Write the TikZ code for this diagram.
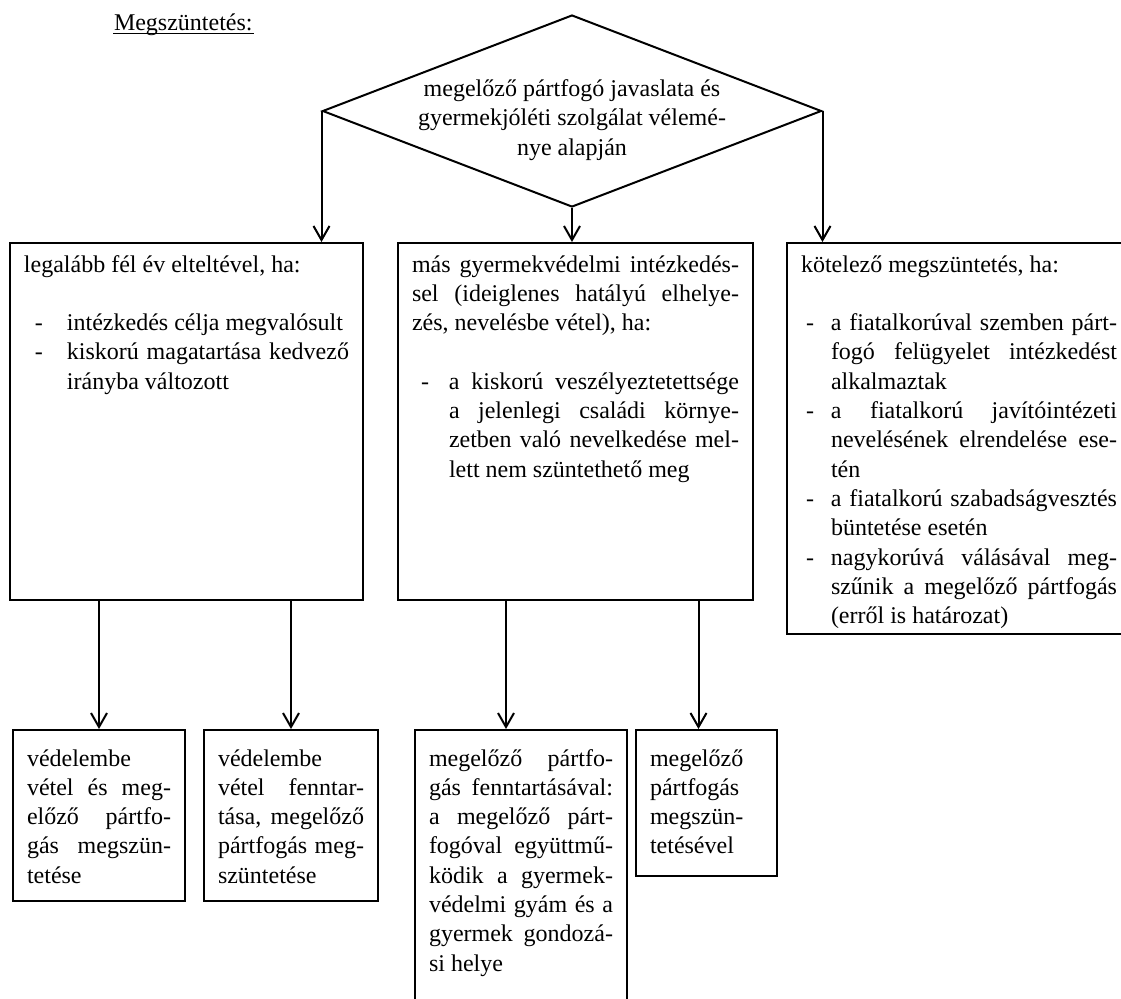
\documentclass[tikz,border=0pt]{standalone}
\usepackage{fontspec}
\setmainfont{Liberation Serif}
\usetikzlibrary{arrows.meta,shapes.geometric}
\setlength{\parindent}{0pt}
% text settings of the boxes
\newcommand{\boxfont}{\fontsize{12pt}{14.65pt}\selectfont\frenchspacing
  \spaceskip=3pt plus 30pt minus 0.5pt\hyphenpenalty=10000\relax}
\newcommand{\dashitem}[2]{\par\noindent\hangindent=#2\hangafter=1%
  \makebox[#2][l]{\hspace{#1}-}\ignorespaces}
\newcommand{\gap}{\par\vskip14.65pt}

\begin{document}
\begin{tikzpicture}[
  x=0.5pt, y=-0.5pt,
  line width=1pt,
  cell/.style={draw, anchor=north west, inner xsep=7pt, inner ysep=4pt,
    text height=10.5pt, align=justify, font=\boxfont},
  lowcell/.style={cell, text height=14pt},
  arr/.style={-{Straight Barb[length=7pt, width=8pt]}}
]
\useasboundingbox (0,0) rectangle (1121,998);

% Title
\node[anchor=base west, inner sep=0pt, font=\fontsize{12pt}{14pt}\selectfont] (title) at (113,30) {Megszüntetés:};
\draw[line width=0.6pt] ([yshift=-1.8pt]title.base west) -- ([yshift=-1.8pt]title.base east);

% Decision
\node[diamond, draw, minimum width=249.5pt, minimum height=96pt, inner sep=0pt] (cond) at (572,111) {};
\node[font=\boxfont, align=center] (condtext) at ([yshift=-4.5pt]cond.center)
  {megelőző pártfogó javaslata és\\gyermekjóléti szolgálat vélemé-\\nye alapján};

% First row
\node[cell, text width=162.5pt, text depth=160pt] (L) at (9,242) {%
  legalább fél év elteltével, ha:\gap
  \dashitem{5.5pt}{21.5pt} intézkedés célja megvalósult
  \dashitem{5.5pt}{21.5pt} kiskorú magatartása kedvező\linebreak irányba változott\par};
\node[cell, text width=163.5pt, text depth=160pt] (M) at (397,242) {%
  más gyermekvédelmi intézkedés-\linebreak sel (ideiglenes hatályú elhelye-\linebreak zés, nevelésbe vétel), ha:\gap
  \dashitem{4.5pt}{18.5pt} a kiskorú veszélyeztetettsége\linebreak a jelenlegi családi környe-\linebreak
  zetben való nevelkedése mel-\linebreak lett nem szüntethető meg\par};
\node[cell, text width=158pt, text depth=177pt] (R) at (786,242) {%
  kötelező megszüntetés, ha:\gap
  \dashitem{2.5pt}{15pt} a fiatalkorúval szemben párt-\linebreak fogó felügyelet intézkedést\linebreak alkalmaztak
  \dashitem{2.5pt}{15pt} a fiatalkorú javítóintézeti\linebreak nevelésének elrendelése ese-\linebreak tén
  \dashitem{2.5pt}{15pt} a fiatalkorú szabadságvesztés\linebreak büntetése esetén
  \dashitem{2.5pt}{15pt} nagykorúvá válásával meg-\linebreak szűnik a megelőző pártfogás\linebreak (erről is határozat)\par};

% Second row
\node[lowcell, text width=72pt, text depth=63.5pt] (B1) at (12,729) {%
  védelembe\linebreak vétel és meg-\linebreak előző pártfo-\linebreak gás megszün-\linebreak tetése};
\node[lowcell, text width=73pt, text depth=63.5pt] (B2) at (203,729) {%
  védelembe\linebreak vétel fenntar-\linebreak tása, megelőző\linebreak pártfogás meg-\linebreak szüntetése};
\node[lowcell, text width=92pt, text depth=118.5pt] (B3) at (414,729) {%
  megelőző pártfo-\linebreak gás fenntartásával:\linebreak a megelőző párt-\linebreak fogóval együttmű-\linebreak
  ködik a gyermek-\linebreak védelmi gyám és a\linebreak gyermek gondozá-\linebreak si helye};
\node[lowcell, text width=56.5pt, text depth=51pt] (B4) at (635,729) {%
  megelőző\linebreak pártfogás\linebreak megszün-\linebreak tetésével};

% Connectors
\draw[arr] (cond.west) -- (cond.west |- L.north);
\draw[arr] (cond.south) -- (cond.south |- M.north);
\draw[arr] (cond.east) -- (cond.east |- R.north);
\draw[arr] (L.south -| B1.north) -- (B1.north);
\draw[arr] (L.south -| B2.north) -- (B2.north);
\coordinate (b3in) at ([xshift=-7.5pt]B3.north);
\coordinate (b4in) at ([xshift=-4pt]B4.north);
\draw[arr] (M.south -| b3in) -- (b3in);
\draw[arr] (M.south -| b4in) -- (b4in);
\end{tikzpicture}
\end{document}
